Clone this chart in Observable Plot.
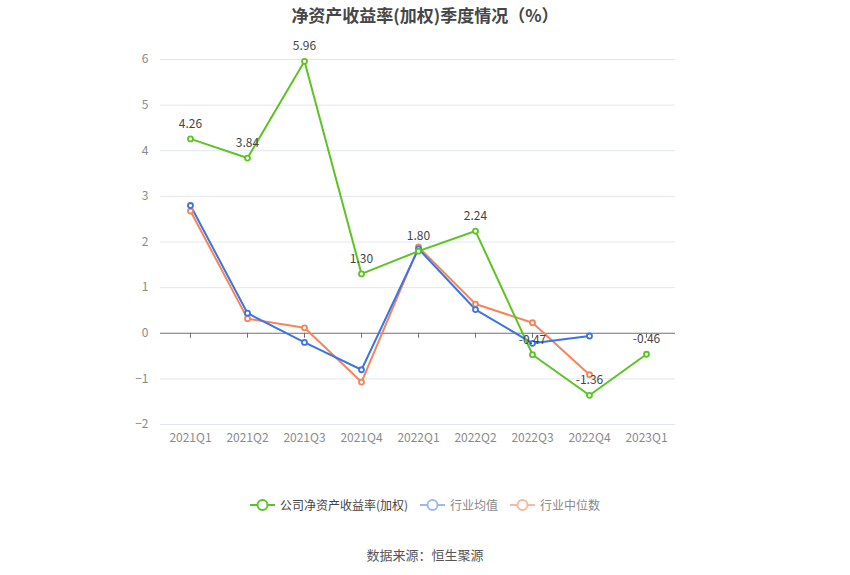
<!DOCTYPE html>
<html><head><meta charset="utf-8">
<script src="https://cdn.jsdelivr.net/npm/d3@7"></script>
<script src="https://cdn.jsdelivr.net/npm/@observablehq/plot@0.6"></script>
<style>
body{margin:0;background:#fff;font-family:"Noto Sans CJK SC","Noto Sans",sans-serif;}
#wrap{position:relative;width:850px;height:575px;}
#title{position:absolute;top:2px;left:0;width:850px;text-align:center;font-size:17px;font-weight:bold;color:#464646;}
#chart{position:absolute;top:0;left:0;}
#legend{position:absolute;top:496px;left:0;width:850px;display:flex;justify-content:center;gap:12px;font-size:12px;}
.item{display:flex;align-items:center;gap:5px;}
#caption{position:absolute;top:545px;left:0;width:850px;text-align:center;font-size:13px;color:#555;}
</style></head>
<body><div id="wrap"><div id="chart"></div><div id="title">净资产收益率(加权)季度情况（%）</div><div id="legend"></div><div id="caption">数据来源：恒生聚源</div></div>
<script>
const quarters = ["2021Q1","2021Q2","2021Q3","2021Q4","2022Q1","2022Q2","2022Q3","2022Q4","2023Q1"];
const companyROE = [4.26, 3.84, 5.96, 1.30, 1.80, 2.24, -0.47, -1.36, -0.46];
const industryMean = [2.80, 0.44, -0.20, -0.80, 1.85, 0.52, -0.22, -0.06, null];
const industryMedian = [2.68, 0.32, 0.12, -1.07, 1.89, 0.64, 0.23, -0.91, null];
const yTicks = [-2, -1, 0, 1, 2, 3, 4, 5, 6];
const seriesNames = ["公司净资产收益率(加权)", "行业均值", "行业中位数"];
const colors = ["#5bc424", "#3b74e4", "#f5845a"];

const rows = [];
[companyROE, industryMean, industryMedian].forEach((arr, s) => {
  arr.forEach((v, i) => { if (v !== null) rows.push({q: quarters[i], v, s: seriesNames[s]}); });
});
const order = [seriesNames[2], seriesNames[1], seriesNames[0]];
const green = rows.filter(d => d.s === seriesNames[0]);

const plot = Plot.plot({
  width: 850, height: 470,
  marginLeft: 160, marginRight: 175, marginTop: 59, marginBottom: 46,
  style: {fontFamily: '"Noto Sans CJK SC","Noto Sans",sans-serif', fontSize: "12px", background: "transparent"},
  x: {type: "point", domain: quarters, padding: 0.5, label: null},
  y: {domain: [-2, 6], label: null, ticks: yTicks},
  color: {domain: seriesNames, range: colors},
  marks: [
    Plot.gridY(yTicks.filter(t => t !== 0), {stroke: "#e0e6f1", strokeOpacity: 1}),
    Plot.ruleY([0], {stroke: "#6e7079"}),
    Plot.ruleX(quarters, {x: d => d, y1: 0, y2: -0.11, stroke: "#6e7079"}),
    Plot.axisY(yTicks, {tickSize: 0, tickPadding: 12, fill: "#8a8a8a", fontSize: 12}),
    Plot.axisX(quarters, {tickSize: 0, tickPadding: 9, fill: "#8a8a8a", fontSize: 12}),
    ...order.map(name => Plot.line(rows.filter(d => d.s === name), {x: "q", y: "v", stroke: colors[seriesNames.indexOf(name)], strokeWidth: 2})),
    ...order.map(name => Plot.dot(rows.filter(d => d.s === name), {x: "q", y: "v", r: 2.5, fill: "#fff", stroke: colors[seriesNames.indexOf(name)], strokeWidth: 1.8})),
    Plot.text(green, {x: "q", y: "v", text: d => d.v.toFixed(2), dy: -15, fill: "#444", fontSize: 12})
  ]
});
document.getElementById("chart").appendChild(plot);

const legend = document.getElementById("legend");
const legendText = ["#444", "#888", "#888"];
const legendIcon = [colors[0], "#9db9f2", "#f9b9a0"];
seriesNames.forEach((n, i) => {
  const el = document.createElement("div");
  el.className = "item";
  el.innerHTML = `<svg width="25" height="14"><line x1="0" y1="7" x2="25" y2="7" stroke="${legendIcon[i]}" stroke-width="2"/><circle cx="12.5" cy="7" r="5" fill="#fff" stroke="${legendIcon[i]}" stroke-width="2"/></svg><span style="color:${legendText[i]}">${n}</span>`;
  legend.appendChild(el);
});
</script></body></html>
